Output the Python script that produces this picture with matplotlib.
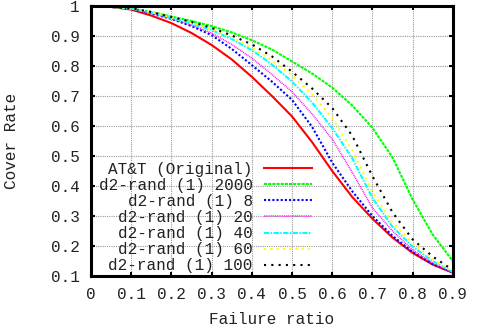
import matplotlib
matplotlib.use("Agg")
import matplotlib.pyplot as plt
from matplotlib.ticker import FuncFormatter

plt.rcParams['font.family'] = ['Liberation Mono', 'DejaVu Sans Mono']

# valores
ratio = [0.0, 0.05, 0.1, 0.15, 0.2, 0.25, 0.3, 0.35, 0.4, 0.45,
         0.5, 0.55, 0.6, 0.65, 0.7, 0.75, 0.8, 0.85, 0.9]

att = [1.0, 0.997, 0.988, 0.968, 0.943, 0.910, 0.870, 0.822, 0.764, 0.700,
       0.632, 0.546, 0.450, 0.363, 0.291, 0.228, 0.177, 0.138, 0.111]
r2000 = [1.0, 0.997, 0.992, 0.980, 0.965, 0.950, 0.933, 0.912, 0.886, 0.855,
         0.815, 0.775, 0.728, 0.668, 0.594, 0.495, 0.355, 0.238, 0.150]
r8 = [1.0, 0.997, 0.990, 0.975, 0.957, 0.933, 0.903, 0.857, 0.803, 0.748,
      0.687, 0.597, 0.478, 0.382, 0.300, 0.234, 0.180, 0.140, 0.112]
r20 = [1.0, 0.997, 0.990, 0.976, 0.958, 0.936, 0.910, 0.872, 0.826, 0.772,
       0.714, 0.640, 0.556, 0.445, 0.327, 0.250, 0.187, 0.143, 0.112]
r40 = [1.0, 0.997, 0.991, 0.978, 0.960, 0.941, 0.920, 0.890, 0.853, 0.805,
       0.748, 0.678, 0.593, 0.492, 0.360, 0.264, 0.198, 0.150, 0.113]
r60 = [1.0, 0.997, 0.991, 0.979, 0.962, 0.944, 0.923, 0.895, 0.862, 0.818,
       0.770, 0.705, 0.627, 0.518, 0.380, 0.277, 0.210, 0.155, 0.115]
r100 = [1.0, 0.997, 0.992, 0.980, 0.963, 0.947, 0.927, 0.902, 0.872, 0.832,
        0.781, 0.725, 0.660, 0.567, 0.433, 0.312, 0.222, 0.165, 0.120]

labels = ['AT&T (Original)', 'd2-rand (1) 2000', 'd2-rand (1) 8', 'd2-rand (1) 20',
          'd2-rand (1) 40', 'd2-rand (1) 60', 'd2-rand (1) 100']
series = [att, r2000, r8, r20, r40, r60, r100]
colores = ['#ff0000', '#00ff00', '#0000ff', '#ff00ff', '#00ffff', '#ffff00', '#000000']
estilos = ['-', (0, (1.5, 0.5)), (0, (1, 1)), (0, (0.6, 0.6)),
           (0, (2.5, 0.7, 0.7, 0.7)), (0, (1, 2)), (0, (1, 2.5))]
anchos = [1.5, 1.5, 1.5, 1.1, 1.5, 1.5, 1.5]

fig = plt.figure(figsize=(4.88, 3.33), dpi=100)
ax = fig.add_axes([0.1865, 0.171, 0.7415, 0.811])

for ys, lab, c, ls, lw in zip(series, labels, colores, estilos, anchos):
    ax.plot(ratio, ys, color=c, linestyle=ls, linewidth=lw, label=lab)

ax.set_xlim(0, 0.9)
ax.set_ylim(0.1, 1.0)
ax.set_xticks([i / 10 for i in range(10)])
ax.set_yticks([i / 10 for i in range(1, 11)])
ax.xaxis.set_major_formatter(FuncFormatter(lambda v, p: '%g' % round(v, 2)))
ax.yaxis.set_major_formatter(FuncFormatter(lambda v, p: '%g' % round(v, 2)))

ax.grid(True, color='#999999', linestyle=(0, (1, 1)), linewidth=0.8)
for s in ax.spines.values():
    s.set_linewidth(2.2)
ax.tick_params(direction='in', length=3, width=1.5, top=True, right=True,
               labelsize=11.5, pad=8, labelcolor='#222222')

ax.set_xlabel('Failure ratio', fontsize=11.5, color='#222222')
ax.set_ylabel('Cover Rate', fontsize=11.5, color='#222222')
ax.xaxis.set_label_coords(0.5, -0.133)
ax.yaxis.set_label_coords(-0.199, 0.5)

leg = ax.legend(loc='lower right', bbox_to_anchor=(0.61, 0.01), frameon=False,
                markerfirst=False, fontsize=11.5, handlelength=3.0,
                handletextpad=0.7, labelspacing=0.07, borderpad=0, borderaxespad=0)
for t in leg.get_texts():
    t.set_color('#222222')

fig.savefig('out.png', dpi=100)
